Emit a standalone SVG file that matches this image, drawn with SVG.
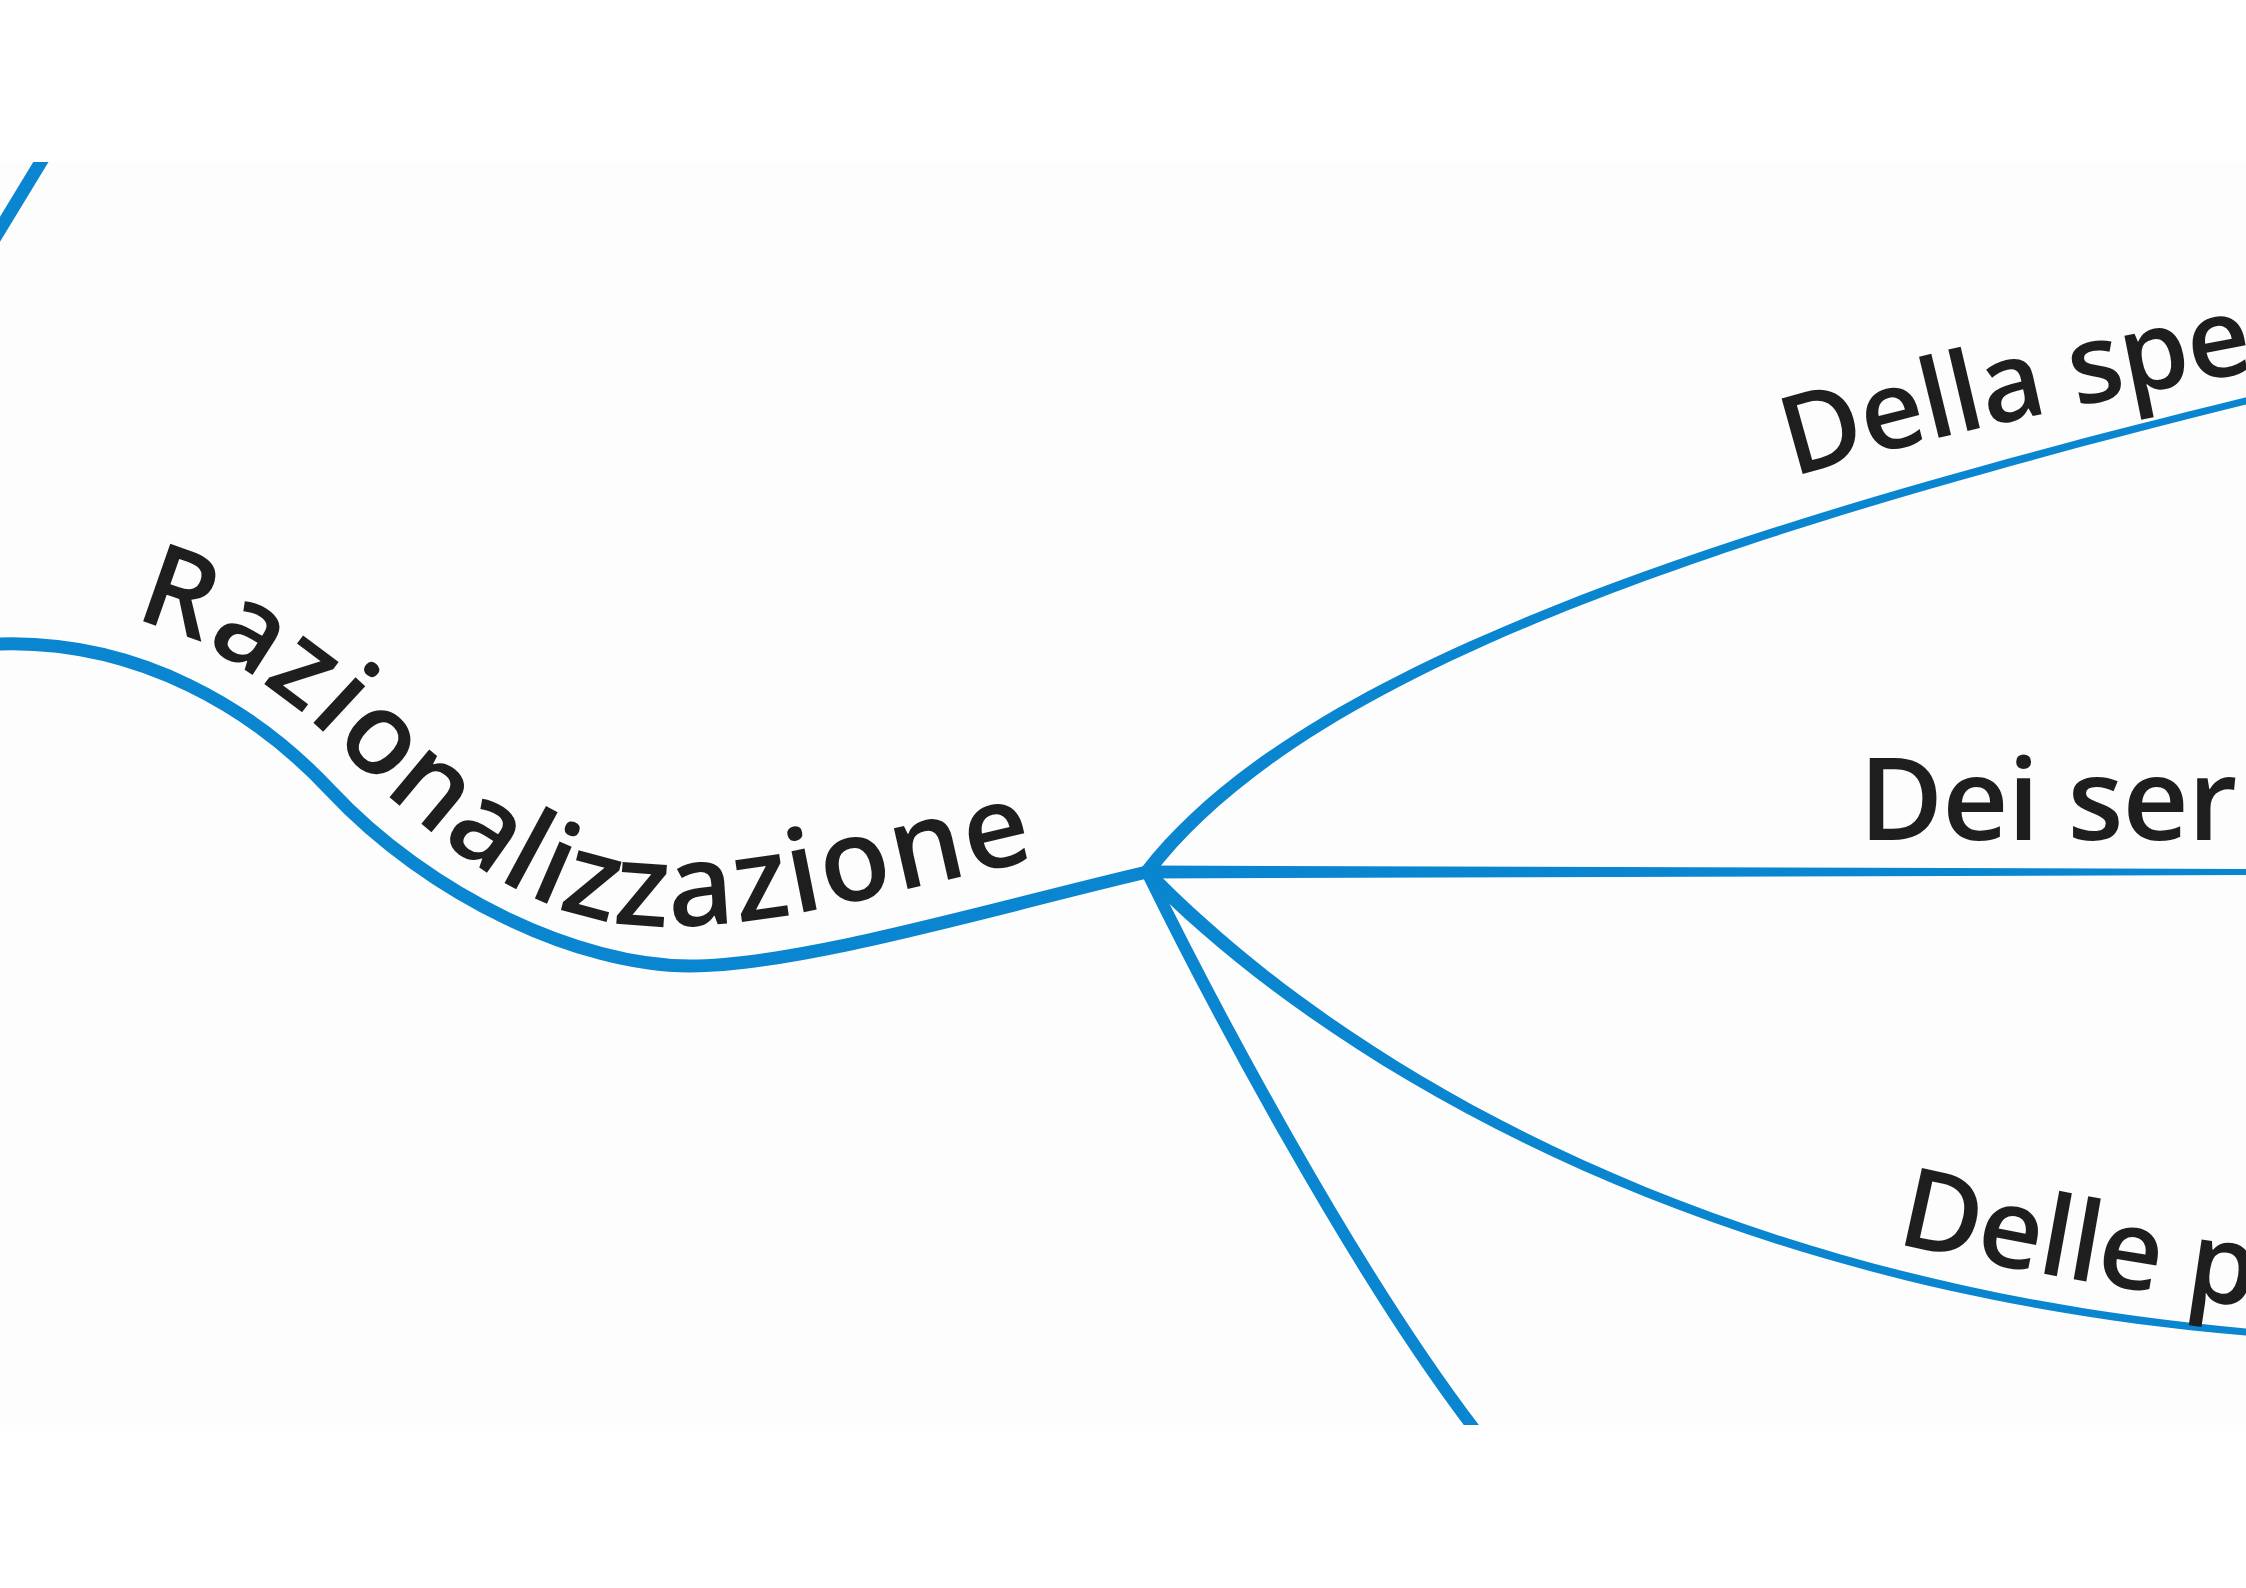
<svg xmlns="http://www.w3.org/2000/svg" width="2246" height="1588" viewBox="0 0 2246 1588">
  <style>
    .line { fill: none; stroke: #0a85cf; stroke-linecap: butt; stroke-linejoin: round; }
    .taper { fill: #0a85cf; stroke: none; }
    .label { font-family: "Open Sans", "Noto Sans", "DejaVu Sans", sans-serif; font-weight: 600; fill: #1e1e1e; }
  </style>
  <defs>
    <clipPath id="page">
      <rect x="0" y="162" width="2246" height="1263"/>
    </clipPath>
    <path id="p-razio" d="M5,606 C58,611 117,613 165,629 C213,645 251,674 291,704 C331,735 370,781 407,812 C444,843 478,869 514,888 C550,907 584,919 625,924 C667,929 711,926 763,919 C815,912 876,896 938,882 C1001,868 1078,849 1138,835 L1300,800"/>
    <path id="p-della" d="M1793,477 Q2020,410 2400,345"/>
    <path id="p-delle" d="M1895,1243 Q2070,1285 2400,1328"/>
  </defs>
  <rect x="0" y="0" width="2246" height="1588" fill="#ffffff"/>
  <rect x="0" y="162" width="2246" height="1263" fill="#fdfdfd"/>

  <g id="connectors" clip-path="url(#page)">
    <line class="line" x1="50" y1="147" x2="-20" y2="262" stroke-width="13"/>
    <path class="line" stroke-width="13" d="M-10,644 L0,644 C140,640 255,710 330,790 C430,897 580,966 690,966 C800,966 997,907 1147,872"/>
    <path class="taper" d="M1141.5,867.7 C1275.3,696.3 1598.9,555.6 2245.2,397.6 L2260,394 L2261,401 L2246.8,404.4 C1601.1,564.4 1284.7,703.7 1152.5,876.3 Z"/>
    <path class="taper" d="M1147,865.5 L2260,869 L2260,875 L1147,878.5 Z"/>
    <path class="taper" d="M1152,867.1 C1334.3,1055.8 1700.4,1280.5 2246.3,1328.5 L2260,1329.5 L2260,1336.5 L2245.7,1335.5 C1699.6,1289.5 1325.7,1064.2 1142,876.9 Z"/>
    <path class="line" stroke-width="12" d="M1147,872 C1200,980 1355,1280 1490,1449"/>
  </g>

  <g id="node-razionalizzazione">
    <text class="label" font-size="115" letter-spacing="2"><textPath href="#p-razio" startOffset="128">Razionalizzazione</textPath></text>
  </g>
  <g id="node-della-spe">
    <text class="label" font-size="110" letter-spacing="-1"><textPath href="#p-della">Della spe</textPath></text>
  </g>
  <g id="node-dei-ser">
    <text class="label" x="1859" y="840" font-size="115" letter-spacing="-1">Dei ser</text>
  </g>
  <g id="node-delle-p">
    <text class="label" font-size="111" letter-spacing="-1"><textPath href="#p-delle">Delle p</textPath></text>
  </g>
</svg>
